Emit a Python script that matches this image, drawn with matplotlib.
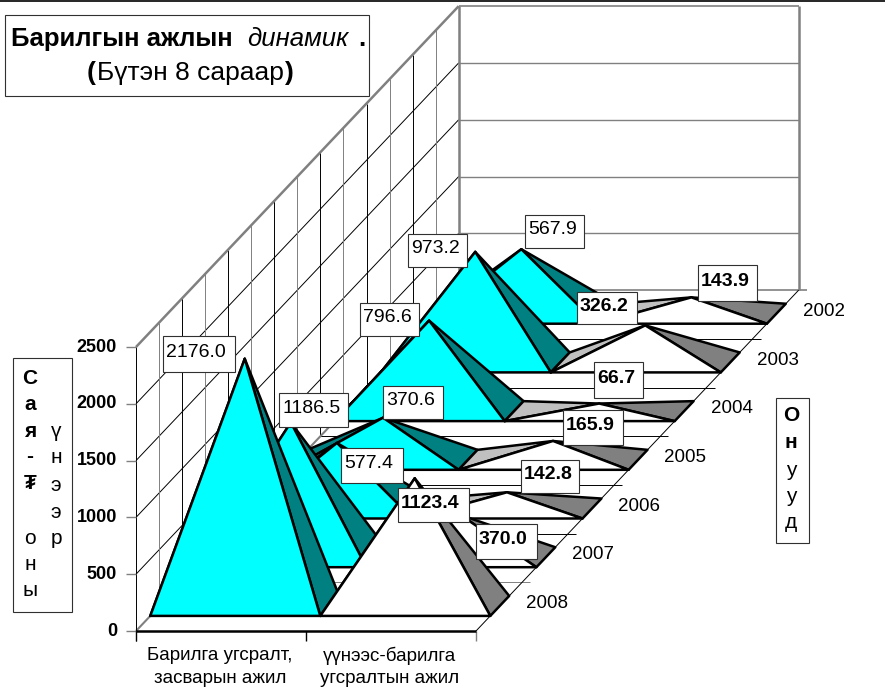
"""Building work dynamics: 3-D pyramid chart drawn on a pixel-sized axes."""

import matplotlib
matplotlib.use("Agg")
import matplotlib.pyplot as plt
from matplotlib.patches import Polygon, Rectangle

plt.rcParams["font.family"] = ["Liberation Sans", "DejaVu Sans"]

# ── data ──────────────────────────────────────────────────────────────
years = [2008, 2007, 2006, 2005, 2004, 2003, 2002]
construction = [2176.0, 1186.5, 577.4, 370.6, 796.6, 973.2, 567.9]
renovation = [1123.4, 370.0, 142.8, 165.9, 66.7, 326.2, 143.9]
categories = ["Барилга угсралт,\nзасварын ажил", "үүнээс-барилга\nугсралтын ажил"]
value_ticks = [0, 500, 1000, 1500, 2000, 2500]

# label boxes as they sit in the picture (x0, y0, x1, y1), same order as years
construction_boxes = [(163, 336, 235, 372), (279, 393, 348, 427), (341, 448, 403, 483),
                      (383, 386, 443, 419), (360, 303, 419, 336), (408, 234, 467, 267),
                      (525, 215, 584, 248)]
renovation_boxes = [(398, 488, 469, 522), (476, 524, 537, 559), (521, 460, 579, 493),
                    (563, 410, 623, 445), (594, 362, 643, 398), (577, 292, 637, 324),
                    (698, 265, 757, 301)]

# ── oblique projection ────────────────────────────────────────────────
ORIGIN_X, ORIGIN_Y = 136, 631
CAT_W = 170
DEPTH_X, DEPTH_Y = 46.1, 48.7
V_SCALE = 284 / 2500
BASE_D0, BASE_D1 = 0.31, 0.72


def project(cat, depth, value=0):
    return (ORIGIN_X + CAT_W * cat + DEPTH_X * depth,
            ORIGIN_Y - DEPTH_Y * depth - V_SCALE * value)


GREY = "#808080"

fig = plt.figure(figsize=(8.85, 6.91), dpi=100)
ax = fig.add_axes([0, 0, 1, 1])
ax.set_xlim(0, 885)
ax.set_ylim(691, 0)
ax.axis("off")


def seg(p, q, color="black", lw=0.7, z=1):
    ax.plot([p[0], q[0]], [p[1], q[1]], color=color, lw=lw, zorder=z,
            solid_capstyle="butt")


n = len(years)

# walls
for v in value_ticks[1:-1]:
    seg(project(0, 0, v), project(0, n, v))
    seg(project(0, n, v), project(2, n, v), color=GREY, lw=1.0)
for k in range(1, 2 * n):
    seg(project(0, k / 2), project(0, k / 2, 2500), color=GREY if k % 2 else "black")
seg(project(0, 0, 2500), project(0, n, 2500), color=GREY, lw=1.8, z=2)
seg(project(0, n, 2500), project(2, n, 2500), color=GREY, lw=1.2, z=2)
seg(project(0, n), project(0, n, 2500), color=GREY, lw=1.8, z=2)
seg(project(2, n), project(2, n, 2500), color=GREY, lw=1.8, z=2)
seg(project(0, 0), project(0, n), color=GREY, lw=1.5, z=2)

# floor
for d in range(1, n + 1):
    x1, y1 = project(2, d)
    seg(project(0, d), (x1 + 8, y1), color=GREY if d in (1, n) else "black",
        lw=1.2 if d == n else 0.7)
seg(project(2, 0), project(2, n), z=2)

# y axis and ticks
seg((ORIGIN_X, project(0, 0, 2500)[1]), (ORIGIN_X, ORIGIN_Y + 10), z=3)
for v in value_ticks:
    x, y = project(0, 0, v)
    seg((x - 10, y), (x, y), color=GREY, lw=1.0, z=3)
    ax.text(117, y, str(v), ha="right", va="center", fontsize=13, fontweight="bold", zorder=3)
for c in range(3):
    x, y = project(c, 0)
    seg((x, y), (x, y + 10), color=GREY if c == 2 else "black", lw=1.0, z=3)
for c, label in enumerate(categories):
    ax.text(project(c + 0.5, 0)[0] - 1, 667, label, ha="center", va="center",
            fontsize=13.5, linespacing=1.4, zorder=3)
for d, year in enumerate(years):
    x, y = project(2, d + 0.5)
    ax.text(x + 48, y - 3, str(year), ha="center", va="center", fontsize=13.5, zorder=3)


# pyramids, back row first
def pyramid(cat, d, value, front, right, left, z):
    fl, fr = project(cat, d + BASE_D0), project(cat + 1, d + BASE_D0)
    bl, br = project(cat, d + BASE_D1), project(cat + 1, d + BASE_D1)
    apex = project(cat + 0.5, d + (BASE_D0 + BASE_D1) / 2, value)
    for pts, col in (((fl, bl, apex), left), ((fr, br, apex), right), ((fl, fr, apex), front)):
        ax.add_patch(Polygon(pts, closed=True, facecolor=col, edgecolor="black",
                             lw=1.8, joinstyle="round", zorder=z))


for d in range(n - 1, -1, -1):
    z = 10 + (n - d) * 2
    pyramid(0, d, construction[d], "#00ffff", "#008080", "#008080", z)
    pyramid(1, d, renovation[d], "white", GREY, "#c0c0c0", z + 1)

seg(project(0, 0), project(2, 0), lw=1.8, z=40)


# boxes and labels
def box(x0, y0, x1, y1, z=50, ec="#303030"):
    ax.add_patch(Rectangle((x0, y0), x1 - x0, y1 - y0, facecolor="white",
                           edgecolor=ec, lw=0.8, zorder=z))


for values, boxes, weight in ((construction, construction_boxes, "normal"),
                              (renovation, renovation_boxes, "bold")):
    for v, b in zip(values, boxes):
        box(*b)
        ax.text(b[0] + 3, (b[1] + b[3]) / 2 - 2, f"{v:.1f}", ha="left", va="center",
                fontsize=14, fontweight=weight, zorder=51)

# title box
box(5, 15, 369, 96)
for x, y, s, size, kw in ((11, 39, "Барилгын ажлын", 18.5, dict(fontweight="bold")),
                          (247, 39, "динамик", 18.5, dict(fontstyle="italic")),
                          (358, 39, ".", 18.5, dict(fontweight="bold")),
                          (87, 73, "(", 19, dict(fontweight="bold")),
                          (97, 73, "Бүтэн 8 сараар", 19, dict()),
                          (285, 73, ")", 19, dict(fontweight="bold"))):
    ax.text(x, y, s, ha="left", va="center", fontsize=size, zorder=51, **kw)

# axis title boxes, written one letter per line
box(13, 358, 72, 612)
for s, y in zip("Сая-₮", (378, 404, 431, 456, 483)):
    ax.text(30, y, s, ha="center", va="center", fontsize=15, fontweight="bold", zorder=51)
for s, y in zip("оны", (538, 564, 590)):
    ax.text(30, y, s, ha="center", va="center", fontsize=15, zorder=51)
for s, y in zip("үнээр", (431, 457, 485, 512, 538)):
    ax.text(56, y, s, ha="center", va="center", fontsize=15, zorder=51)

box(776, 398, 809, 543)
for s, y, w in zip("Онууд", (415, 442, 470, 496, 522),
                   ("bold", "bold", "normal", "normal", "normal")):
    ax.text(791, y, s, ha="center", va="center", fontsize=15, fontweight=w, zorder=51)

# rule along the top of the page
seg((0, 1), (885, 1), lw=1.2, z=60)

fig.savefig("out.png", dpi=100)
